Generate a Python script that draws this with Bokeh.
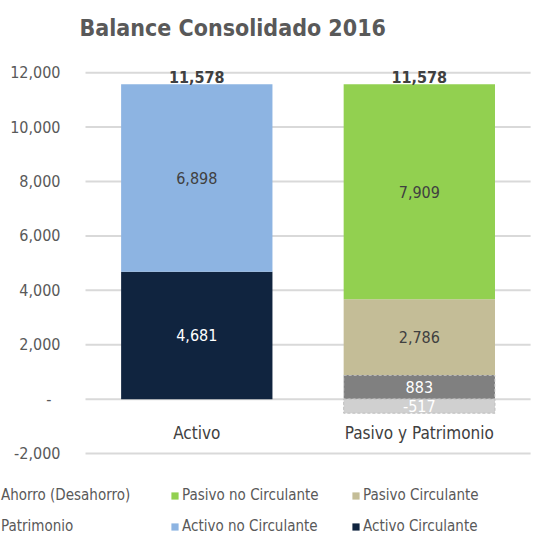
from bokeh.plotting import figure
from bokeh.models import (ColumnDataSource, FixedTicker, NumeralTickFormatter,
                          LinearAxis, Legend, LegendItem, Range1d)
from bokeh.core.properties import value
from bokeh.embed import file_html
from bokeh.resources import INLINE

# ---- data ----
categories = ["Activo", "Pasivo y Patrimonio"]
activo_circulante = [4681, 0]
activo_no_circulante = [6898, 0]
patrimonio = [0, 883]
pasivo_circulante = [0, 2786]
pasivo_no_circulante = [0, 7909]
ahorro_desahorro = [0, -517]
totals = [11578, 11578]
y_ticks = [-2000, 0, 2000, 4000, 6000, 8000, 10000, 12000]

FONT = "DejaVu Sans Condensed"
GRAY = "#595959"
DARK = "#404040"

n = len(categories)
centers = [i + 0.5 for i in range(n)]

# frame covers the whole page below the title; axes are pinned inside it
p = figure(x_range=Range1d(-0.382, n + 0.031), y_range=Range1d(-5197, 13000),
           width=537, height=540, output_backend="svg", toolbar_location=None,
           x_axis_location=None, y_axis_location=None,
           min_border_left=0, min_border_right=0, min_border_top=45, min_border_bottom=0)
p.outline_line_color = None
p.xgrid.visible = False
p.ygrid.visible = False

# gridlines spanning the category area only
p.segment(x0=0, x1=n, y0=y_ticks, y1=y_ticks, line_color="#d9d9d9", line_width=2)

# title
p.title.text = "Balance Consolidado 2016"
p.title.text_font = FONT
p.title.text_font_size = "23px"
p.title.text_font_style = "bold"
p.title.text_color = GRAY
p.title.align = "left"
p.title.offset = 79

# y axis pinned at the left edge of the category area
yax = LinearAxis(fixed_location=0, ticker=FixedTicker(ticks=y_ticks),
                 formatter=NumeralTickFormatter(format="0,0"))
yax.major_label_overrides = {0: "-\u00a0\u00a0"}
yax.axis_line_color = None
yax.major_tick_line_color = None
yax.minor_tick_line_color = None
yax.major_label_text_font = FONT
yax.major_label_text_font_size = "16px"
yax.major_label_text_color = GRAY
yax.major_label_standoff = 19
p.add_layout(yax, "left")

# category axis pinned at zero
xax = LinearAxis(fixed_location=0, ticker=FixedTicker(ticks=centers))
xax.major_label_overrides = {c: name for c, name in zip(centers, categories)}
xax.axis_line_color = None
xax.major_tick_line_color = None
xax.minor_tick_line_color = None
xax.major_label_text_font = FONT
xax.major_label_text_font_size = "17px"
xax.major_label_text_color = DARK
xax.major_label_standoff = 18
p.add_layout(xax, "below")

# ---- bars ----
# (name, values, fill, label colour, outline colour, dash)
series = [
    ("Activo Circulante", activo_circulante, "#10243f", "white", None, None),
    ("Activo no Circulante", activo_no_circulante, "#8db4e2", DARK, None, None),
    ("Patrimonio", patrimonio, "#808080", "white", "#d9d9d9", "3 2"),
    ("Pasivo Circulante", pasivo_circulante, "#c4bd97", DARK, None, None),
    ("Pasivo no Circulante", pasivo_no_circulante, "#92d050", DARK, None, None),
]
ahorro_style = ("Ahorro (Desahorro)", ahorro_desahorro, "#d0d0d0", "white", "#bfbfbf", "3 2")

W = 0.68
cum = [0] * n
renderers = {}
lab_x, lab_y, lab_t, lab_c = [], [], [], []
for name, vals, fill, tcol, lcol, dash in series:
    xs, bots, tops = [], [], []
    for i, v in enumerate(vals):
        if v != 0:
            xs.append(centers[i]); bots.append(cum[i]); tops.append(cum[i] + v)
            lab_x.append(centers[i]); lab_y.append(cum[i] + v / 2)
            lab_t.append(f"{v:,}"); lab_c.append(tcol)
        cum[i] += v
    kw = dict(line_color=lcol, line_dash=dash, line_width=1) if lcol else dict(line_color=None)
    renderers[name] = p.vbar(x="x", bottom="bottom", top="top", width=W, fill_color=fill,
                             source=ColumnDataSource(dict(x=xs, bottom=bots, top=tops)), **kw)

# negative series (Ahorro) below zero
name, vals, fill, tcol, lcol, dash = ahorro_style
xs, bots, tops = [], [], []
for i, v in enumerate(vals):
    if v != 0:
        xs.append(centers[i]); bots.append(0); tops.append(v)
        lab_x.append(centers[i]); lab_y.append(v / 2)
        lab_t.append(f"{v:,}"); lab_c.append(tcol)
renderers[name] = p.vbar(x="x", bottom="bottom", top="top", width=W, fill_color=fill,
                         line_color=lcol, line_dash=dash, line_width=1,
                         source=ColumnDataSource(dict(x=xs, bottom=bots, top=tops)))

p.text(x="x", y="y", text="t", text_color="c",
       source=ColumnDataSource(dict(x=lab_x, y=lab_y, t=lab_t, c=lab_c)),
       text_font=value(FONT), text_font_size="16px", text_align="center",
       text_baseline="middle")

p.text(x=centers, y=totals, text=[f"{t:,}" for t in totals],
       text_font=value(FONT), text_font_size="16px", text_font_style="bold",
       text_color=DARK, text_align="center", text_baseline="bottom", y_offset=-1)

# ---- legend (column-major: 2 rows x 3 columns) ----
order = ["Ahorro (Desahorro)", "Patrimonio",
         "Pasivo no Circulante", "Activo no Circulante",
         "Pasivo Circulante", "Activo Circulante"]
legend = Legend(items=[LegendItem(label=nm, renderers=[renderers[nm]]) for nm in order],
                ncols=3, location=(-11, 5),
                glyph_width=9, glyph_height=9, label_standoff=3, label_width=156,
                spacing=13, padding=0, margin=0, border_line_color=None,
                background_fill_alpha=0,
                label_text_font=FONT, label_text_font_size="15px",
                label_text_color=GRAY)
p.add_layout(legend, "center")

open("out.html", "w").write(file_html(p, INLINE))
